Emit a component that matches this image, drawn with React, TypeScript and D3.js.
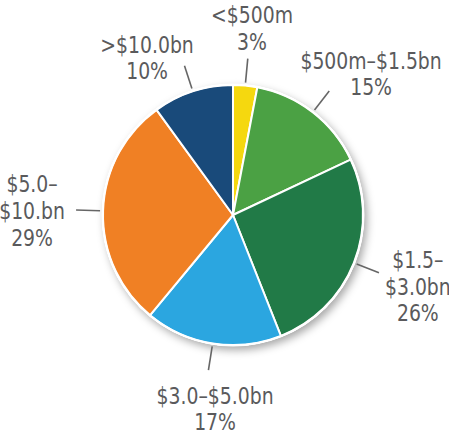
import React from "react";
import * as d3 from "d3";

const categories = ["<$500m", "$500m–$1.5bn", "$1.5–$3.0bn", "$3.0–$5.0bn", "$5.0–$10.bn", ">$10.0bn"];
const values = [3, 15, 26, 17, 29, 10];
const labelLines = [
  ["<$500m", "3%"],
  ["$500m–$1.5bn", "15%"],
  ["$1.5–", "$3.0bn", "26%"],
  ["$3.0–$5.0bn", "17%"],
  ["$5.0–", "$10.bn", "29%"],
  [">$10.0bn", "10%"],
];
const colors = ["#f5d80f", "#4ba144", "#217a47", "#2ba6e0", "#f08024", "#194a7a"];
// label placement tweaks: [angle offset in degrees, radius]
const labelAngleOffset = [0.4, 6.5, -0.6, -3.7, -0.5, -10.6];
const labelRadius = [188, 197.7, 198, 194.2, 201, 179.5];

const W = 449;
const H = 432;
const cx = 233;
const cy = 215;
const R = 130;
const FS = 23.5;
const LH = 26.7;
const SX = 0.89;

export default function App() {
  const pie = d3.pie<number>().value((d) => d).sort(null).startAngle(0).endAngle(2 * Math.PI);
  const arcs = pie(values);
  const arc = d3.arc<d3.PieArcDatum<number>>().innerRadius(0).outerRadius(R);
  const polar = (a: number, r: number) => [Math.sin(a) * r, -Math.cos(a) * r];

  return (
    <svg
      width={W}
      height={H}
      style={{ position: "absolute", left: 0, top: 0, display: "block", background: "#fff" }}
    >
      <defs>
        <filter id="sh" x="-20%" y="-20%" width="140%" height="140%">
          <feDropShadow dx="3" dy="4" stdDeviation="4" floodColor="#000" floodOpacity="0.35" />
        </filter>
      </defs>
      <g transform={`translate(${cx},${cy})`}>
        <circle r={R + 1} fill="#fff" filter="url(#sh)" />
        {arcs.map((a, i) => (
          <path key={i} d={arc(a) || ""} fill={colors[i]} stroke="#fff" strokeWidth={2} strokeLinejoin="round" />
        ))}
        <circle r={R + 0.5} fill="none" stroke="#fff" strokeWidth={2} />
        {arcs.map((a, i) => {
          const mid = (a.startAngle + a.endAngle) / 2;
          const [x1, y1] = polar(mid, R + 3);
          const [x2, y2] = polar(mid, R + 27);
          return <line key={"l" + i} x1={x1} y1={y1} x2={x2} y2={y2} stroke="#666" strokeWidth={1.6} />;
        })}
        {arcs.map((a, i) => {
          const mid = (a.startAngle + a.endAngle) / 2 + (labelAngleOffset[i] * Math.PI) / 180;
          const [lx, ly] = polar(mid, labelRadius[i]);
          const lines = labelLines[i];
          const top = ly - ((lines.length - 1) * LH) / 2 + FS * 0.365;
          return (
            <text
              key={"t" + i}
              transform={`translate(${lx},0) scale(${SX},1)`}
              textAnchor="middle"
              fontFamily="'DejaVu Sans Condensed', 'Liberation Sans Narrow', sans-serif"
              fontSize={FS}
              fill="#5a5a5c"
            >
              {lines.map((s, j) => (
                <tspan key={j} x={0} y={top + j * LH}>
                  {s}
                </tspan>
              ))}
            </text>
          );
        })}
      </g>
    </svg>
  );
}
